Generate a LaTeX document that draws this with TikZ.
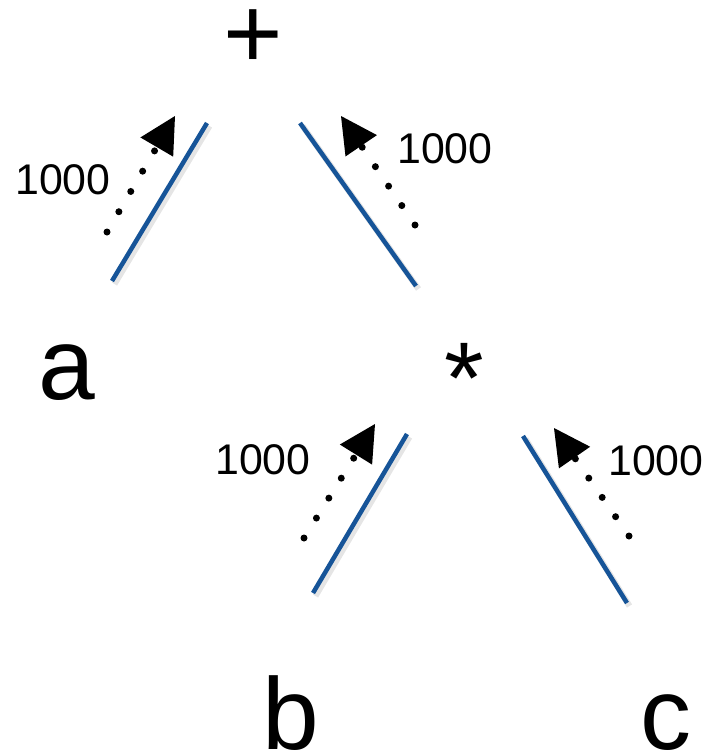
\documentclass[tikz,border=0pt]{standalone}
\usepackage{fontspec}
\setsansfont{Liberation Sans}
\usetikzlibrary{arrows.meta}
\definecolor{edgeblue}{RGB}{22,84,152}
\begin{document}
\begin{tikzpicture}[font=\sffamily,
          opnode/.style={anchor=base, inner sep=0pt, font=\sffamily\fontsize{58}{60}\selectfont},
          costlbl/.style={anchor=base, inner sep=0pt, font=\sffamily\fontsize{24.4}{26}\selectfont},
          edgeline/.style={draw=edgeblue, line width=0.09cm},
          edgeshade/.style={draw=black, opacity=0.1, line width=0.12cm},
          flowarrow/.style={line width=0.14cm, line cap=round, dash pattern=on 0pt off 0.47cm,
            -{Triangle[length=0.72cm, width=0.76cm, line width=0pt]}}]
        \useasboundingbox (0,0) rectangle (14.12,-15.12);
        % operators and operands
        \node[opnode] (plus) at (5.06,-1.36) {+};
        \node[opnode] (a) at (1.34,-7.98) {a};
        \node[opnode] (times) at (9.28,-8.26) {*};
        \node[opnode] (b) at (5.82,-14.98) {b};
        \node[opnode] (c) at (13.32,-14.98) {c};
        % costs
        \node[costlbl] (costa) at (1.26,-3.88) {1000};
        \node[costlbl] (costtimes) at (8.9,-3.26) {1000};
        \node[costlbl] (costb) at (5.26,-9.48) {1000};
        \node[costlbl] (costc) at (13.12,-9.5) {1000};
        % tree edges
        \coordinate (e1top) at (4.14,-2.46);   \coordinate (e1bot) at (2.24,-5.62);
        \coordinate (e2top) at (6.0,-2.46);    \coordinate (e2bot) at (8.32,-5.72);
        \coordinate (e3top) at (8.14,-8.68);   \coordinate (e3bot) at (6.26,-11.86);
        \coordinate (e4top) at (10.46,-8.72);  \coordinate (e4bot) at (12.54,-12.06);
        % flow of cost upwards
        \coordinate (f1from) at (2.14,-4.64);  \coordinate (f1to) at (3.5,-2.32);
        \coordinate (f2from) at (8.3,-4.5);    \coordinate (f2to) at (6.82,-2.32);
        \coordinate (f3from) at (6.08,-10.76); \coordinate (f3to) at (7.5,-8.48);
        \coordinate (f4from) at (12.58,-10.72); \coordinate (f4to) at (11.08,-8.56);
        \foreach \edgei in {1,...,4} {
          \draw[edgeshade] ([shift={(0.05,-0.06)}]e\edgei top) -- ([shift={(0.05,-0.06)}]e\edgei bot);
          \draw[edgeline] (e\edgei top) -- (e\edgei bot);
          \draw[flowarrow] (f\edgei from) -- (f\edgei to);
        }
      \end{tikzpicture}
\end{document}
